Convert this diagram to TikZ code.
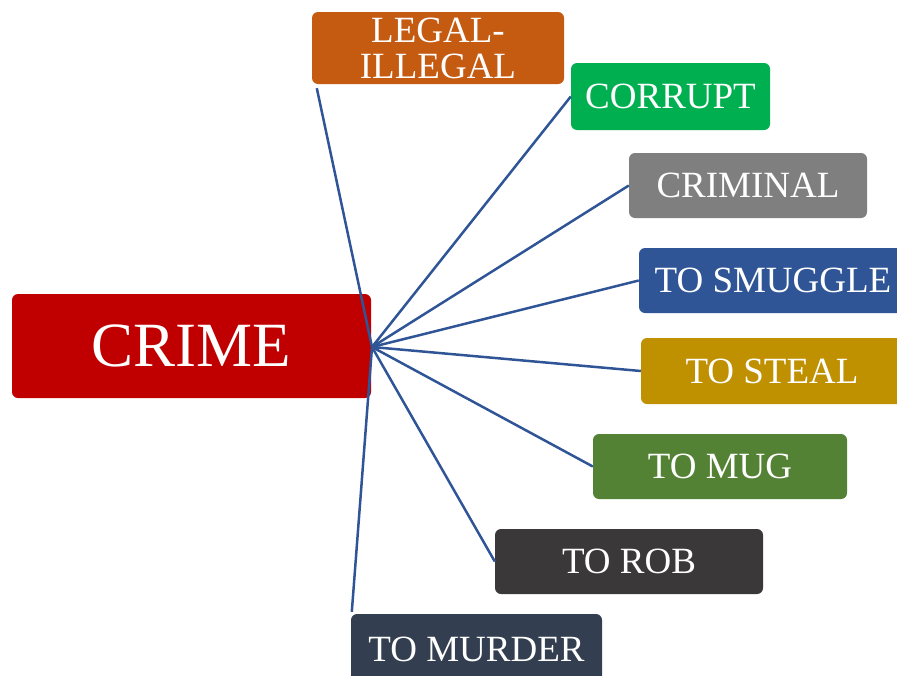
\documentclass[tikz,border=0pt]{standalone}
\usepackage{fontspec}
\setmainfont{Liberation Serif}
\usepackage{tikz}
\usetikzlibrary{positioning,calc}

\definecolor{crimered}{HTML}{C00000}
\definecolor{legalorange}{HTML}{C55A11}
\definecolor{corruptgreen}{HTML}{00B050}
\definecolor{criminalgrey}{HTML}{7F7F7F}
\definecolor{smuggleblue}{HTML}{2F5597}
\definecolor{stealgold}{HTML}{BF9000}
\definecolor{mugolive}{HTML}{548235}
\definecolor{robdark}{HTML}{3A3838}
\definecolor{murdernavy}{HTML}{333F50}
\definecolor{linkblue}{HTML}{2F5597}

\begin{document}
\begin{tikzpicture}[x=1pt,y=-1pt,
  word/.style={rounded corners=6pt,text=white,align=center,inner sep=0pt,
    font=\fontsize{37}{36}\selectfont},
  link/.style={draw=linkblue,line width=2.5pt}]
  % fix the page to the size of the reference
  \useasboundingbox (0,0) rectangle (897,675);
  \begin{scope}
  \clip (0,0) rectangle (897,675);
  % Centre word
  \node[word,fill=crimered,minimum width=359pt,minimum height=104pt,
    font=\fontsize{63}{63}\selectfont] (crime) at (191.5,346) {CRIME};
  % The words round it
  \node[word,fill=legalorange,minimum width=252pt,minimum height=72pt,
    font=\fontsize{37}{37}\selectfont] (legal) at (438,48) {LEGAL-\\[-1pt]ILLEGAL};
  \node[word,fill=corruptgreen,minimum width=199pt,minimum height=67pt] (corrupt) at (670.5,96.5) {CORRUPT};
  \node[word,fill=criminalgrey,minimum width=238pt,minimum height=65pt] (criminal) at (748,185.5) {CRIMINAL};
  \node[word,fill=smuggleblue,minimum width=268pt,minimum height=65pt] (smuggle) at (773,280.5) {TO SMUGGLE};
  \node[word,fill=stealgold,minimum width=262pt,minimum height=66pt] (steal) at (772,371) {TO STEAL};
  \node[word,fill=mugolive,minimum width=254pt,minimum height=65pt] (mug) at (720,466.5) {TO MUG};
  \node[word,fill=robdark,minimum width=268pt,minimum height=65pt] (rob) at (629,561.5) {TO ROB};
  \node[word,fill=murdernavy,minimum width=251pt,minimum height=70pt] (murder) at (476.5,649) {TO MURDER};
  \end{scope}
  % Where the links meet, and their loose ends
  \coordinate (hub) at (372,347);
  \coordinate (legalend) at ($(legal.south west)+(5,4)$);
  \coordinate (murderend) at ($(murder.north west)+(1,-2)$);
  % Links
  \draw[link] (hub) -- (legalend);
  \draw[link] (hub) -- (corrupt.west);
  \draw[link] (hub) -- (criminal.west);
  \draw[link] (hub) -- (smuggle.west);
  \draw[link] (hub) -- (steal.west);
  \draw[link] (hub) -- (mug.west);
  \draw[link] (hub) -- (rob.west);
  \draw[link] (hub) -- (murderend);
\end{tikzpicture}
\end{document}
